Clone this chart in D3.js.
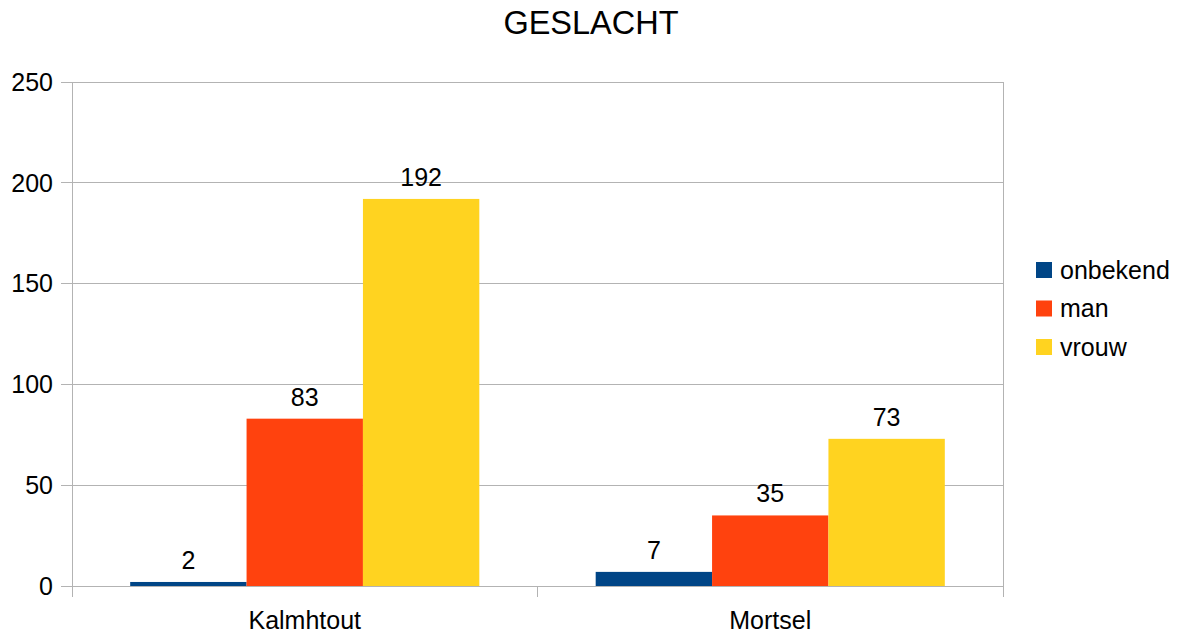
<!DOCTYPE html>
<html><head><meta charset="utf-8">
<script src="https://cdn.jsdelivr.net/npm/d3@7"></script>
<style>body{margin:0;background:#fff}svg{display:block}text{font-family:"Liberation Sans",Arial,sans-serif;fill:#000}</style>
</head><body>
<script>
const categories = ["Kalmhtout", "Mortsel"];
const seriesNames = ["onbekend", "man", "vrouw"];
const onbekend = [2, 7];
const man = [83, 35];
const vrouw = [192, 73];
const yTicks = [0, 50, 100, 150, 200, 250];
const colors = ["#004586", "#ff420e", "#ffd320"];
const series = [onbekend, man, vrouw];

const W = 1182, H = 636;
const L = 72, R = 1003, T = 82, B = 586;
const FS = 25;
const svg = d3.select("body").append("svg").attr("width", W).attr("height", H);

const x = d3.scaleBand().domain(categories).range([L, R]).paddingInner(0).paddingOuter(0);
const xi = d3.scaleBand().domain(seriesNames).range([0, x.bandwidth()]).paddingOuter(0.5).paddingInner(0);
const y = d3.scaleLinear().domain([0, 250]).range([B, T]);

// gridlines
svg.append("g").selectAll("line").data(yTicks).join("line")
  .attr("x1", L - 11).attr("x2", R).attr("y1", d => y(d)).attr("y2", d => y(d))
  .attr("stroke", "#b3b3b3").attr("stroke-width", 1).attr("shape-rendering", "crispEdges");
svg.append("line").attr("x1", L).attr("x2", L).attr("y1", T).attr("y2", B + 11)
  .attr("stroke", "#b3b3b3").attr("shape-rendering", "crispEdges");
svg.append("line").attr("x1", R).attr("x2", R).attr("y1", T).attr("y2", B + 11)
  .attr("stroke", "#b3b3b3").attr("shape-rendering", "crispEdges");
const xt = [L, ...categories.slice(1).map(c => x(c)), R];
svg.append("g").selectAll("line").data(xt).join("line")
  .attr("x1", d => d).attr("x2", d => d).attr("y1", B).attr("y2", B + 11)
  .attr("stroke", "#b3b3b3").attr("shape-rendering", "crispEdges");

// y labels
svg.append("g").selectAll("text").data(yTicks).join("text")
  .attr("x", L - 19).attr("y", d => y(d)).attr("dy", "0.35em")
  .attr("text-anchor", "end").attr("font-size", FS).text(d => d);

// x labels
svg.append("g").selectAll("text").data(categories).join("text")
  .attr("x", d => x(d) + x.bandwidth() / 2).attr("y", B + 43)
  .attr("text-anchor", "middle").attr("font-size", FS).text(d => d);

// bars
series.forEach((vals, si) => {
  const g = svg.append("g");
  g.selectAll("rect").data(vals).join("rect")
    .attr("x", (d, i) => x(categories[i]) + xi(seriesNames[si]))
    .attr("width", xi.bandwidth())
    .attr("y", d => y(d)).attr("height", d => B - y(d))
    .attr("fill", colors[si]);
  g.selectAll("text").data(vals).join("text")
    .attr("x", (d, i) => x(categories[i]) + xi(seriesNames[si]) + xi.bandwidth() / 2)
    .attr("y", d => y(d) - 13)
    .attr("text-anchor", "middle").attr("font-size", FS).text(d => d);
});

// title
svg.append("text").attr("x", 591).attr("y", 34).attr("text-anchor", "middle")
  .attr("font-size", 32.5).text("GESLACHT");

// legend
const lg = svg.append("g");
seriesNames.forEach((n, i) => {
  const cy = 270 + i * 38.5;
  lg.append("rect").attr("x", 1036).attr("y", cy - 8).attr("width", 16).attr("height", 16).attr("fill", colors[i]);
  lg.append("text").attr("x", 1060).attr("y", cy).attr("dy", "0.35em").attr("font-size", FS).text(n);
});
</script>
</body></html>
